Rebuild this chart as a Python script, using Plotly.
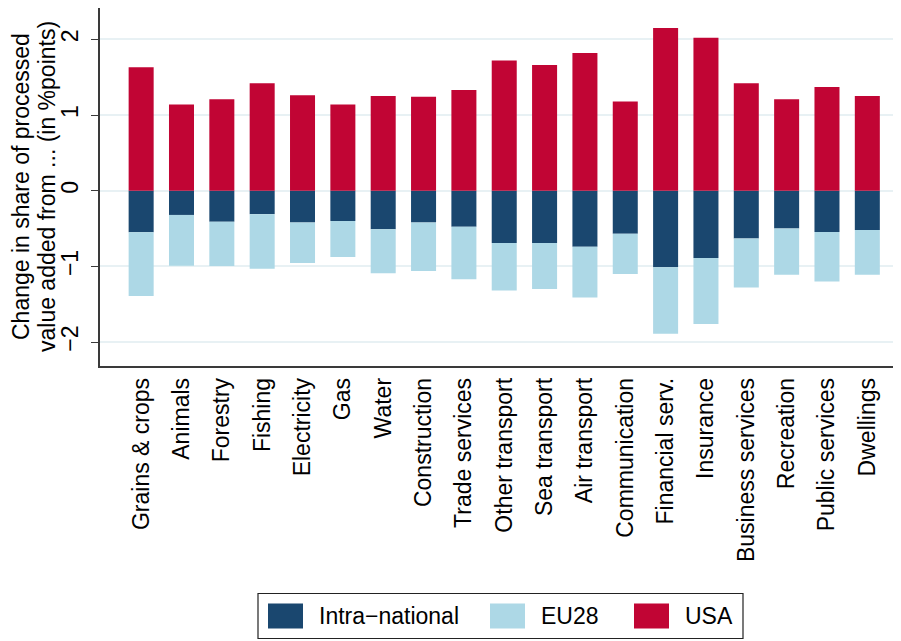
import plotly.graph_objects as go

categories = ["Grains & crops", "Animals", "Forestry", "Fishing", "Electricity", "Gas",
              "Water", "Construction", "Trade services", "Other transport", "Sea transport",
              "Air transport", "Communication", "Financial serv.", "Insurance",
              "Business services", "Recreation", "Public services", "Dwellings"]

intra_national = [-0.55, -0.32, -0.41, -0.31, -0.42, -0.40, -0.51, -0.42, -0.475, -0.69,
                  -0.69, -0.74, -0.57, -1.01, -0.89, -0.63, -0.50, -0.545, -0.52]
eu28 = [-0.84, -0.67, -0.585, -0.72, -0.535, -0.475, -0.58, -0.64, -0.695, -0.63,
        -0.61, -0.67, -0.53, -0.88, -0.87, -0.65, -0.61, -0.655, -0.59]
usa = [1.63, 1.14, 1.21, 1.42, 1.26, 1.14, 1.25, 1.24, 1.33, 1.72,
       1.66, 1.82, 1.18, 2.15, 2.02, 1.42, 1.21, 1.37, 1.25]

y_ticks = [-2, -1, 0, 1, 2]

C_NAVY = "#1A476F"
C_LIGHT = "#ADD8E6"
C_RED = "#C10534"
FONT = "Liberation Sans, Arial, Helvetica, sans-serif"
FS = 23

# page has an 8px body margin: size the figure so it fits the 901x641 window
OFF = 8
W, H = 901 - OFF, 641 - OFF
ML, MR, MT, MB = 92, 1, 0, 275
PW, PH = W - ML - MR, H - MT - MB
PLOT_LEFT, PLOT_BOTTOM = ML + OFF, H - MB + OFF  # in window pixels


def px(x):
    return (x - PLOT_LEFT) / PW


def py(y):
    return (PLOT_BOTTOM - y) / PH


fig = go.Figure()
for name, vals, col in [("Intra\u2212national", intra_national, C_NAVY),
                        ("EU28", eu28, C_LIGHT),
                        ("USA", usa, C_RED)]:
    fig.add_trace(go.Bar(x=categories, y=vals, name=name, marker_color=col,
                         marker_line_width=0, width=0.62, showlegend=False))

shapes = [dict(type="rect", xref="paper", yref="paper", x0=px(258), x1=px(743),
               y0=py(593.5), y1=py(638.5), line=dict(color="#222222", width=1.2),
               fillcolor="rgba(0,0,0,0)")]
annotations = []
legend_items = [("Intra\u2212national", C_NAVY, 268, 317),
                ("EU28", C_LIGHT, 490, 539),
                ("USA", C_RED, 634, 683)]
for label, col, sx, tx in legend_items:
    shapes.append(dict(type="rect", xref="paper", yref="paper", x0=px(sx), x1=px(sx + 35),
                       y0=py(603.5), y1=py(628.5), line=dict(width=0), fillcolor=col))
    annotations.append(dict(text=label, xref="paper", yref="paper", x=px(tx), y=py(616),
                            xanchor="left", yanchor="middle", showarrow=False,
                            font=dict(family=FONT, size=FS, color="black")))

annotations.append(dict(text="Change in share of processed", xref="paper", yref="paper",
                        x=px(21), y=py(187), textangle=-90, xanchor="center", yanchor="middle",
                        showarrow=False, font=dict(family=FONT, size=FS, color="black")))
annotations.append(dict(text="value added from ... (in %points)", xref="paper", yref="paper",
                        x=px(47), y=py(187), textangle=-90, xanchor="center", yanchor="middle",
                        showarrow=False, font=dict(family=FONT, size=FS, color="black")))

fig.update_layout(
    width=W, height=H,
    margin=dict(l=ML, r=MR, t=MT, b=MB, pad=0, autoexpand=False),
    barmode="relative",
    paper_bgcolor="white", plot_bgcolor="white",
    font=dict(family=FONT, size=FS, color="black"),
    shapes=shapes, annotations=annotations,
    showlegend=False,
)
fig.update_xaxes(range=[-1.02, 18.81], tickangle=-90, showgrid=False, ticks="",
                 showline=True, linecolor="#3a3a3a", linewidth=1.5, automargin=False,
                 tickfont=dict(family=FONT, size=FS, color="black"),
                 ticklabelstandoff=1, zeroline=False)
fig.update_yaxes(range=[-2.316, 2.414], tickvals=y_ticks, tickangle=-90,
                 showgrid=True, gridcolor="#E8F1F4", gridwidth=1.5,
                 ticks="outside", ticklen=7, tickwidth=1.2, tickcolor="#3a3a3a",
                 showline=True, linecolor="#3a3a3a", linewidth=1.5, automargin=False,
                 zeroline=False,
                 tickfont=dict(family=FONT, size=FS, color="black"),
                 ticklabelstandoff=4)

fig.write_html("out.html")
